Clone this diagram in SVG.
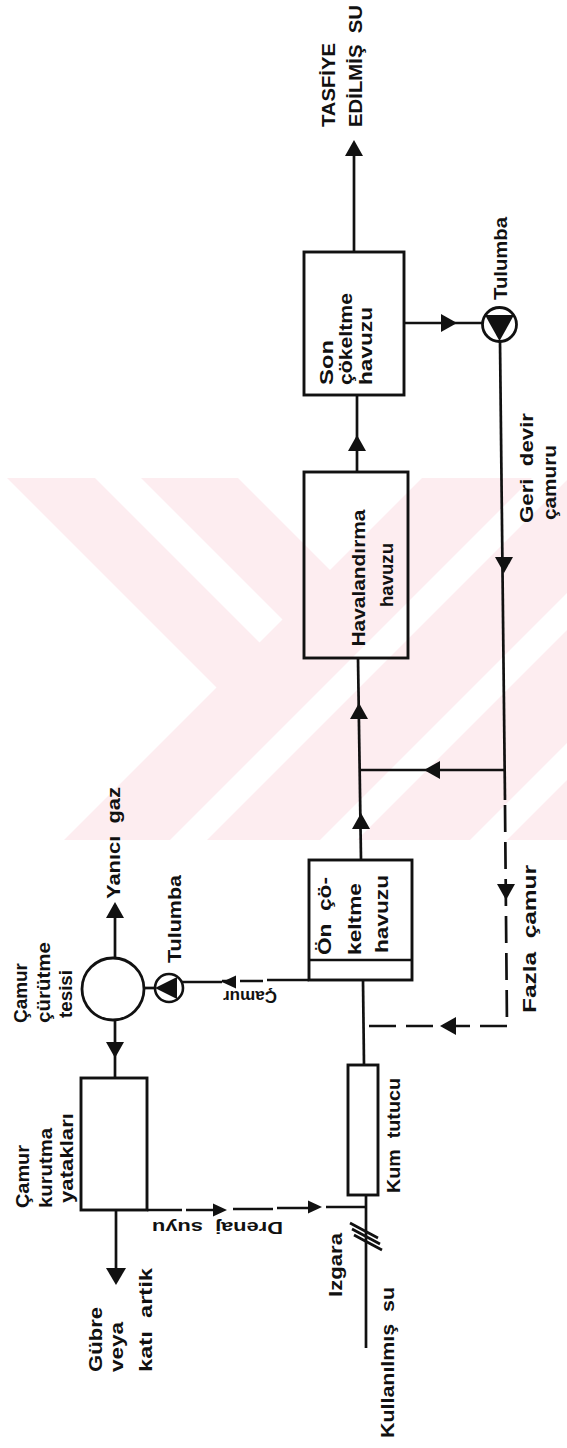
<svg xmlns="http://www.w3.org/2000/svg" xmlns:xlink="http://www.w3.org/1999/xlink" width="567" height="1448" viewBox="0 0 567 1448">
<style>
.ln{stroke:#111;stroke-width:2.7;fill:none}
.dl{stroke:#111;stroke-width:2.7;fill:none;stroke-dasharray:27 10}
.box{fill:none;stroke:#111;stroke-width:2.9}
.t{font-family:'Liberation Sans',Arial,sans-serif;font-weight:bold;font-size:19px;fill:#111;white-space:pre}
.s{font-size:16px}
.ah{fill:#111}
.wm{fill:#fdedf0}
.wh{fill:#fff}
</style>
<defs>
<path id="ah" d="M0,0 L-16,-9 L-16,9 Z"/>
<path id="ahs" d="M0,0 L-14,-6.5 L-14,6.5 Z"/>
<path id="ahb" d="M0,0 L-17,-10 L-17,10 Z"/>
<clipPath id="band"><rect x="0" y="478" width="567" height="362"/></clipPath>
</defs>
<rect width="567" height="1448" fill="#fff"/>
<g id="watermark" clip-path="url(#band)">
<rect class="wm" x="0" y="478" width="567" height="362"/>
<polygon class="wh" points="0,478 7,478 216.5,687.5 64,840 0,840"/>
<polygon class="wh" points="95,478 141,478 282.5,619.5 259.5,642.5"/>
<polygon class="wh" points="238,478 422,478 330,570"/>
<polygon class="wh" points="532,478 569,478 207,840 170,840"/>
<polygon class="wh" points="682,478 719,478 357,840 320,840"/>
<polygon class="wh" points="832,478 869,478 507,840 470,840"/>
</g>
<g id="connectors">
<line class="ln" x1="354" y1="252" x2="354" y2="150"/>
<line class="ln" x1="404" y1="323" x2="482" y2="323"/>
<line class="ln" x1="357" y1="472" x2="357" y2="395"/>
<line class="ln" x1="361" y1="860" x2="358" y2="658"/>
<line class="ln" x1="361" y1="770" x2="505" y2="770"/>
<line class="ln" x1="500" y1="341" x2="505" y2="800"/>
<line class="dl" x1="505" y1="805" x2="507" y2="1026"/>
<line class="dl" x1="507" y1="1026" x2="364" y2="1026"/>
<line class="ln" x1="363" y1="980" x2="364" y2="1065"/>
<line class="ln" x1="366" y1="1195" x2="366" y2="1348"/>
<path class="ln" d="M147,1210 H182 M186,1210 H215 M233,1209 H273 M277,1208 H312 M326,1207 H366"/>
<path class="ln" d="M309,980 H267 M263,981 H240 M235,981 H222 M222,982 H182"/>
<line class="ln" x1="155" y1="988" x2="144" y2="988"/>
<line class="ln" x1="115" y1="958" x2="115" y2="905"/>
<line class="ln" x1="115" y1="1020" x2="115" y2="1078"/>
<line class="ln" x1="116" y1="1210" x2="116" y2="1280"/>
<use class="ah" xlink:href="#ah" transform="translate(354,140) rotate(-90)"/>
<use class="ah" xlink:href="#ah" transform="translate(457,323)"/>
<use class="ah" xlink:href="#ah" transform="translate(357,435) rotate(-90)"/>
<use class="ah" xlink:href="#ah" transform="translate(504,573) rotate(90)"/>
<use class="ah" xlink:href="#ah" transform="translate(424,770) rotate(180)"/>
<use class="ah" xlink:href="#ah" transform="translate(359,703) rotate(-90)"/>
<use class="ah" xlink:href="#ah" transform="translate(361,813) rotate(-90)"/>
<use class="ah" xlink:href="#ah" transform="translate(506,900) rotate(90)"/>
<use class="ah" xlink:href="#ah" transform="translate(440,1026) rotate(180)"/>
<use class="ah" xlink:href="#ahs" transform="translate(222,982) rotate(180)"/>
<use class="ah" xlink:href="#ah" transform="translate(115,902) rotate(-90)"/>
<use class="ah" xlink:href="#ah" transform="translate(115,1058) rotate(90)"/>
<use class="ah" xlink:href="#ahb" transform="translate(116,1285) rotate(90)"/>
<use class="ah" xlink:href="#ahs" transform="translate(227,1210)"/>
<use class="ah" xlink:href="#ahs" transform="translate(322,1207)"/>
<path class="ln" stroke-width="2.2" d="M350,1223 L378,1238 M352,1229 L380,1244 M354,1235 L382,1250"/>
</g>
<g id="out">
<text class="t" transform="translate(335,127) rotate(-90)" textLength="84" lengthAdjust="spacingAndGlyphs">TASFİYE</text>
<text class="t" transform="translate(362,127) rotate(-90)" textLength="122" lengthAdjust="spacingAndGlyphs">EDİLMİŞ  SU</text>
</g>
<g id="son">
<rect class="box" x="304" y="252" width="100" height="143"/>
<text class="t" transform="translate(333,385) rotate(-90)" textLength="45" lengthAdjust="spacingAndGlyphs">Son</text>
<text class="t" transform="translate(352,385) rotate(-90)" textLength="92" lengthAdjust="spacingAndGlyphs">çökeltme</text>
<text class="t" transform="translate(372,385) rotate(-90)" textLength="78" lengthAdjust="spacingAndGlyphs">havuzu</text>
</g>
<g id="pump1">
<circle cx="499.5" cy="324.5" r="17" fill="#fff" stroke="#111" stroke-width="2.8"/>
<polygon class="ah" points="485,315 514,315 499.5,341"/>
<text class="t" transform="translate(507,300) rotate(-90)" textLength="83" lengthAdjust="spacingAndGlyphs">Tulumba</text>
</g>
<g id="geri">
<text class="t" transform="translate(533,523) rotate(-90)" textLength="110" lengthAdjust="spacingAndGlyphs">Geri  devir</text>
<text class="t" transform="translate(556,520) rotate(-90)" textLength="75" lengthAdjust="spacingAndGlyphs">çamuru</text>
</g>
<g id="havalandirma">
<rect class="box" x="304" y="472" width="104" height="186"/>
<text class="t" text-anchor="middle" transform="translate(365,578) rotate(-90)" textLength="137" lengthAdjust="spacingAndGlyphs">Havalandırma</text>
<text class="t" text-anchor="middle" transform="translate(393,575) rotate(-90)" textLength="64" lengthAdjust="spacingAndGlyphs">havuzu</text>
</g>
<g id="on">
<rect class="box" x="309" y="860" width="103" height="120"/>
<line class="ln" x1="309" y1="960" x2="412" y2="960"/>
<text class="t" transform="translate(331,955) rotate(-90)" textLength="78" lengthAdjust="spacingAndGlyphs">Ön  çö-</text>
<text class="t" transform="translate(361,955) rotate(-90)" textLength="72" lengthAdjust="spacingAndGlyphs">keltme</text>
<text class="t" transform="translate(388,953) rotate(-90)" textLength="78" lengthAdjust="spacingAndGlyphs">havuzu</text>
</g>
<g id="fazla">
<text class="t" transform="translate(536,1013) rotate(-90)" textLength="148" lengthAdjust="spacingAndGlyphs">Fazla  çamur</text>
</g>
<g id="gaz">
<text class="t" transform="translate(120,899) rotate(-90)" textLength="112" lengthAdjust="spacingAndGlyphs">Yanıcı  gaz</text>
</g>
<g id="curutme">
<circle cx="113" cy="989" r="31" fill="#fff" stroke="#111" stroke-width="2.8"/>
<text class="t" transform="translate(27,1023) rotate(-90)" textLength="60" lengthAdjust="spacingAndGlyphs">Çamur</text>
<text class="t" transform="translate(50,1023) rotate(-90)" textLength="81" lengthAdjust="spacingAndGlyphs">çürütme</text>
<text class="t" transform="translate(72,1018) rotate(-90)" textLength="48" lengthAdjust="spacingAndGlyphs">tesisi</text>
</g>
<g id="pump2">
<circle cx="169" cy="988" r="14" fill="#fff" stroke="#111" stroke-width="2.6"/>
<polygon class="ah" points="155,988 177,977 177,999"/>
<text class="t" transform="translate(181,963) rotate(-90)" textLength="88" lengthAdjust="spacingAndGlyphs">Tulumba</text>
</g>
<g id="camurlabel">
<text class="t s" transform="translate(277,991) rotate(180)" textLength="54" lengthAdjust="spacingAndGlyphs">Çamur</text>
</g>
<g id="kurutma">
<rect class="box" x="81" y="1078" width="66" height="132"/>
<text class="t" transform="translate(29,1208) rotate(-90)" textLength="63" lengthAdjust="spacingAndGlyphs">Çamur</text>
<text class="t" transform="translate(52,1208) rotate(-90)" textLength="80" lengthAdjust="spacingAndGlyphs">kurutma</text>
<text class="t" transform="translate(73,1203) rotate(-90)" textLength="90" lengthAdjust="spacingAndGlyphs">yatakları</text>
</g>
<g id="gubre">
<text class="t" transform="translate(102,1372) rotate(-90)" textLength="65" lengthAdjust="spacingAndGlyphs">Gübre</text>
<text class="t" transform="translate(123,1372) rotate(-90)" textLength="50" lengthAdjust="spacingAndGlyphs">veya</text>
<text class="t" transform="translate(152,1372) rotate(-90)" textLength="104" lengthAdjust="spacingAndGlyphs">katı  artik</text>
</g>
<g id="drenaj">
<text class="t s" transform="translate(283,1222) rotate(180)" textLength="131" lengthAdjust="spacingAndGlyphs">Drenaj  suyu</text>
</g>
<g id="kum">
<rect class="box" x="348" y="1065" width="30" height="130"/>
<text class="t" transform="translate(400,1193) rotate(-90)" textLength="115" lengthAdjust="spacingAndGlyphs">Kum  tutucu</text>
</g>
<g id="izgara">
<text class="t" transform="translate(342,1297) rotate(-90)" textLength="64" lengthAdjust="spacingAndGlyphs">Izgara</text>
</g>
<g id="giris">
<text class="t" transform="translate(394,1438) rotate(-90)" textLength="151" lengthAdjust="spacingAndGlyphs">Kullanılmış  su</text>
</g>
</svg>
